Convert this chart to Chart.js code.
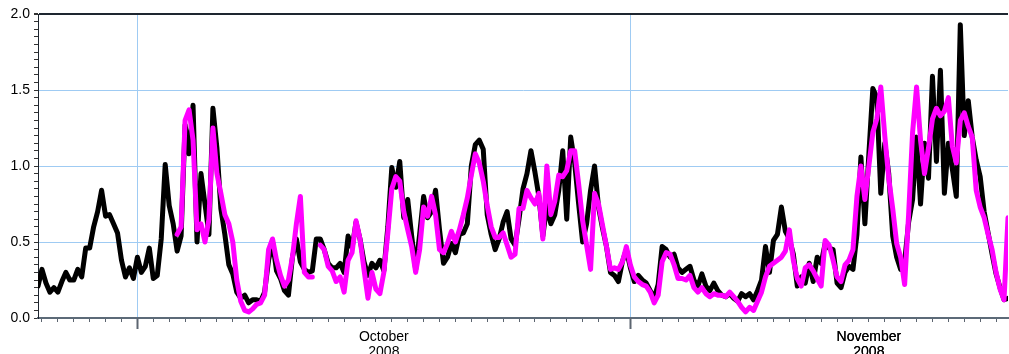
<!DOCTYPE html>
<html>
<head>
<meta charset="utf-8">
<script src="https://cdn.jsdelivr.net/npm/chart.js@4.4.0/dist/chart.umd.min.js"></script>
<style>
  html, body { margin: 0; padding: 0; background: #ffffff; }
  #wrap { width: 1009px; height: 354px; }
</style>
</head>
<body>
<div id="wrap"><canvas id="chart" width="1009" height="354"></canvas></div>
<script>
// Time axis: days since 1 Oct 2008, samples every 6 hours
const firstDay = -6.25;
const stepDays = 0.25;
const monthStarts = [0, 31];
const monthLabels = [
    { at: 15.5, text: ['October', '2008'] },
    { at: 46, text: ['November', '2008'] }
];

// black series (6-hourly)
const blackSeries = [
    0.21,0.32,0.23,0.17,0.20,0.17,0.24,0.30,0.25,0.25,
    0.32,0.27,0.46,0.46,0.60,0.70,0.84,0.67,0.68,0.62,
    0.56,0.38,0.27,0.33,0.26,0.40,0.30,0.34,0.46,0.26,
    0.28,0.52,1.01,0.74,0.62,0.44,0.54,1.27,1.08,1.40,
    0.50,0.95,0.75,0.55,1.38,1.12,0.72,0.55,0.35,0.29,
    0.17,0.13,0.15,0.10,0.12,0.12,0.11,0.17,0.38,0.50,
    0.31,0.26,0.18,0.15,0.40,0.52,0.37,0.32,0.30,0.31,
    0.52,0.52,0.45,0.36,0.33,0.33,0.36,0.30,0.54,0.46,
    0.63,0.52,0.37,0.28,0.36,0.33,0.38,0.31,0.60,0.99,
    0.86,1.03,0.66,0.78,0.54,0.32,0.55,0.80,0.66,0.70,
    0.84,0.58,0.36,0.40,0.49,0.43,0.55,0.56,0.62,1.00,
    1.14,1.17,1.11,0.68,0.55,0.45,0.52,0.63,0.70,0.52,
    0.48,0.65,0.85,0.95,1.10,0.96,0.80,0.54,0.74,0.62,
    0.68,0.84,1.10,0.65,1.19,1.02,0.75,0.50,0.62,0.84,
    1.00,0.73,0.59,0.47,0.30,0.28,0.24,0.37,0.45,0.33,
    0.24,0.28,0.25,0.23,0.18,0.13,0.22,0.47,0.45,0.40,
    0.42,0.33,0.30,0.32,0.34,0.25,0.21,0.29,0.21,0.18,
    0.23,0.18,0.15,0.14,0.16,0.13,0.11,0.16,0.14,0.16,
    0.12,0.18,0.25,0.47,0.30,0.51,0.55,0.73,0.57,0.52,
    0.42,0.21,0.27,0.23,0.36,0.24,0.40,0.36,0.49,0.46,
    0.45,0.23,0.20,0.30,0.34,0.32,0.55,1.06,0.62,1.08,
    1.51,1.45,0.82,1.15,0.95,0.54,0.40,0.32,0.37,0.63,
    0.78,1.19,0.75,1.15,0.92,1.59,1.03,1.63,0.82,1.15,
    0.98,0.80,1.93,1.20,1.43,1.19,1.04,0.93,0.70,0.56,
    0.42,0.29,0.20,0.12,0.13
];

// magenta series starts at sample 35; null = missing
const magentaFirst = 35;
const magentaSeries = [
    0.55,0.60,1.30,1.37,1.17,
    0.58,0.62,0.50,0.65,1.25,0.95,0.82,0.68,0.62,0.50,
    0.25,0.11,0.05,0.04,0.06,0.09,0.10,0.15,0.45,0.52,
    0.38,0.28,0.21,0.25,0.40,0.62,0.80,0.30,0.27,0.27,
    null,0.48,0.45,0.34,0.31,0.24,0.27,0.17,0.38,0.43,
    0.64,0.52,0.32,0.13,0.30,0.19,0.16,0.30,0.56,0.85,
    0.93,0.90,0.70,0.58,0.47,0.30,0.45,0.73,0.67,0.80,
    0.68,0.45,0.43,0.49,0.57,0.50,0.58,0.68,0.79,0.94,
    1.08,1.02,0.90,0.74,0.60,0.53,0.53,0.56,0.48,0.40,
    0.42,0.72,0.72,0.84,0.79,0.75,0.82,0.52,1.00,0.68,
    0.77,0.94,0.93,0.97,1.10,1.10,0.88,0.64,0.48,0.32,
    0.82,0.75,0.61,0.47,0.32,0.33,0.32,0.37,0.47,0.35,
    0.27,0.24,0.22,0.21,0.17,0.10,0.15,0.37,0.43,0.42,
    0.35,0.26,0.26,0.25,0.28,0.20,0.17,0.20,0.16,0.14,
    0.16,0.15,0.15,0.14,0.17,0.14,0.11,0.07,0.04,0.07,
    0.05,0.11,0.17,0.27,0.34,0.36,0.38,0.40,0.44,0.58,
    0.38,0.26,0.21,0.33,0.35,0.31,0.26,0.21,0.51,0.48,
    0.38,0.27,0.24,0.35,0.38,0.45,0.80,1.00,0.78,1.00,
    1.22,1.31,1.52,1.20,0.92,0.72,0.49,0.40,0.22,0.68,
    1.22,1.52,1.17,0.95,1.12,1.31,1.38,1.33,1.36,1.45,
    1.13,1.02,1.30,1.35,1.26,1.19,0.84,0.73,0.66,0.55,
    0.45,0.30,0.19,0.12,0.66
];

const gridBlue = '#9fcbf3';
const axisDark = '#1e2630';
const isMajorY = v => Math.round(v * 100) % 50 === 0;

function toPoints(values, offset) {
    return values.map((v, i) => ({ x: firstDay + (offset + i) * stepDays, y: v }));
}

// longer tick marks at month boundaries
const monthTicks = {
    id: 'monthTicks',
    afterDraw(chart) {
        const { ctx, chartArea, scales } = chart;
        ctx.save();
        ctx.strokeStyle = '#5c6570';
        ctx.lineWidth = 2;
        monthStarts.forEach(d => {
            const px = Math.round(scales.x.getPixelForValue(d)) + 0.5;
            ctx.beginPath();
            ctx.moveTo(px, chartArea.bottom);
            ctx.lineTo(px, chartArea.bottom + 11);
            ctx.stroke();
        });
        ctx.restore();
    }
};

Chart.defaults.font.family = "'Liberation Sans', Arial, sans-serif";
Chart.defaults.font.size = 14;
Chart.defaults.color = '#000000';

const ctx = document.getElementById('chart').getContext('2d');
new Chart(ctx, {
    type: 'line',
    data: {
        datasets: [
            {
                label: 'magenta',
                data: toPoints(magentaSeries, magentaFirst),
                borderColor: '#ff00ff',
                borderWidth: 5,
                pointRadius: 0,
                tension: 0,
                spanGaps: false,
                borderJoinStyle: 'round',
                borderCapStyle: 'round',
                order: 0
            },
            {
                label: 'black',
                data: toPoints(blackSeries, 0),
                borderColor: '#000000',
                borderWidth: 5,
                pointRadius: 0,
                tension: 0,
                borderJoinStyle: 'round',
                borderCapStyle: 'round',
                order: 1
            }
        ]
    },
    options: {
        responsive: false,
        animation: false,
        events: [],
        layout: { padding: { top: 14, right: 1, left: 0, bottom: 0 } },
        plugins: { legend: { display: false }, tooltip: { enabled: false } },
        scales: {
            x: {
                type: 'linear',
                min: firstDay,
                max: firstDay + (blackSeries.length - 1) * stepDays,
                afterBuildTicks: scale => {
                    const t = [];
                    for (let d = Math.ceil(scale.min); d <= scale.max; d++) t.push({ value: d });
                    monthLabels.forEach(m => t.push({ value: m.at }));
                    t.sort((a, b) => a.value - b.value);
                    scale.ticks = t;
                },
                afterFit: scale => { scale.height = 36; },
                border: { color: '#5c6a78', width: 2 },
                grid: {
                    color: c => (c.tick && monthStarts.includes(c.tick.value)) ? gridBlue : 'rgba(0,0,0,0)',
                    tickColor: c => (c.tick && Number.isInteger(c.tick.value)) ? '#5c6570' : 'rgba(0,0,0,0)',
                    tickLength: 4,
                    lineWidth: 1
                },
                ticks: {
                    autoSkip: false,
                    maxRotation: 0,
                    padding: 8,
                    font: { size: 14, lineHeight: 1.05 },
                    callback: value => {
                        const m = monthLabels.find(l => l.at === value);
                        return m ? m.text : '';
                    }
                }
            },
            y: {
                min: 0,
                max: 2,
                afterBuildTicks: scale => {
                    const t = [];
                    for (let k = 0; k <= 40; k++) t.push({ value: Math.round(k * 5) / 100 });
                    scale.ticks = t;
                },
                afterFit: scale => { scale.width = 38; },
                border: { color: axisDark, width: 1 },
                grid: {
                    color: c => {
                        const v = c.tick ? c.tick.value : 0;
                        if (v === 2) return axisDark;
                        return (isMajorY(v) && v > 0) ? gridBlue : 'rgba(0,0,0,0)';
                    },
                    lineWidth: c => (c.tick && c.tick.value === 2) ? 2 : 1,
                    tickColor: '#333333',
                    tickLength: 4
                },
                ticks: {
                    autoSkip: false,
                    padding: 4,
                    callback: value => isMajorY(value) ? value.toFixed(1) : ''
                }
            }
        }
    },
    plugins: [monthTicks]
});
</script>
</body>
</html>
